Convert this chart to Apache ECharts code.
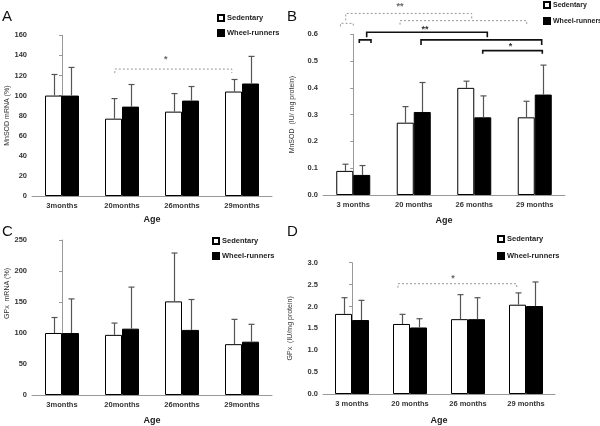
<!DOCTYPE html>
<html><head><meta charset="utf-8">
<script src="https://cdn.jsdelivr.net/npm/echarts@6/dist/echarts.min.js"></script>
<style>html,body{margin:0;padding:0;background:#fff}#c{width:600px;height:426px}</style>
</head><body><div id="c"></div>
<script>
// ---- data ----
const catsAC = ['3months', '20months', '26months', '29months'];
const catsBD = ['3 months', '20 months', '26 months', '29 months'];

const sedA = [100, 77, 84, 104];
const sedA_up = [121, 97, 102, 116];
const runA = [100, 89, 95, 112];
const runA_up = [128, 111, 109, 139];

const sedB = [0.09, 0.27, 0.40, 0.29];
const sedB_up = [0.115, 0.33, 0.425, 0.35];
const runB = [0.075, 0.31, 0.29, 0.375];
const runB_up = [0.11, 0.42, 0.37, 0.485];

const sedC = [100, 97, 151, 82];
const sedC_up = [125, 116, 229, 122];
const runC = [100, 107, 105, 86];
const runC_up = [155, 174, 154, 114];

const sedD = [1.83, 1.60, 1.71, 2.04];
const sedD_up = [2.20, 1.82, 2.27, 2.31];
const runD = [1.69, 1.52, 1.71, 2.01];
const runD_up = [2.14, 1.72, 2.20, 2.56];

// significance annotations (x in category units, y in data units)
const bracketsA = [
  {x1: 0.88, x2: 2.83, y: 126.4, d1: 4, d2: 4, dash: true, text: '*', tx: 1.73, ty: 135.4}
];
const bracketsB = [
  {x1: -0.21, x2: 0.0, y: 0.641, d1: 3, d2: 3, dash: true},
  {x1: -0.125, x2: 1.958, y: 0.678, d1: 7, d2: 5, dash: true, text: '**', tx: 0.773, ty: 0.702},
  {x1: 0.773, x2: 2.867, y: 0.651, d1: 4, d2: 4, dash: true},
  {x1: 0.1, x2: 0.293, y: 0.579, d1: 3, d2: 3, dash: false},
  {x1: 0.222, x2: 2.216, y: 0.6075, d1: 5, d2: 5, dash: false, text: '**', tx: 1.186, ty: 0.618},
  {x1: 1.12, x2: 3.115, y: 0.579, d1: 5, d2: 5, dash: false},
  {x1: 2.14, x2: 3.125, y: 0.539, d1: 3, d2: 3, dash: false, text: '*', tx: 2.60, ty: 0.554}
];
const bracketsC = [];
const bracketsD = [
  {x1: 0.793, x2: 2.84, y: 2.52, d1: 4, d2: 4, dash: true, text: '*', tx: 1.74, ty: 2.64}
];

// ---- chart ----
const FONT = '"Liberation Sans", Arial, sans-serif';
const BW = 17;

function errSeries(xi, yi, means, ups, side) {
  return {
    type: 'custom', xAxisIndex: xi, yAxisIndex: yi, silent: true, z: 5,
    data: means.map((m, i) => [i, m, ups[i]]),
    renderItem: function (params, api) {
      const b = api.coord([api.value(0), api.value(1)]);
      const t = api.coord([api.value(0), api.value(2)]);
      const x = Math.round(b[0] + side * BW / 2) + 0.5;
      return {
        type: 'group', children: [
          {type: 'line', shape: {x1: x, y1: b[1], x2: x, y2: t[1]}, style: {stroke: '#555', lineWidth: 1.2}},
          {type: 'line', shape: {x1: x - 3, y1: t[1], x2: x + 3, y2: t[1]}, style: {stroke: '#555', lineWidth: 1.2}}
        ]
      };
    }
  };
}

function bracketSeries(xi, yi, list) {
  return {
    type: 'custom', xAxisIndex: xi, yAxisIndex: yi, silent: true, z: 6, clip: false,
    data: list.map(() => [0, 0]),
    renderItem: function (params, api) {
      const b = list[params.dataIndex];
      const p1 = api.coord([b.x1, b.y]);
      const p2 = api.coord([b.x2, b.y]);
      const col = b.dash ? '#999' : '#111';
      const children = [{
        type: 'polyline',
        shape: {points: [[p1[0], p1[1] + b.d1], [p1[0], p1[1]], [p2[0], p2[1]], [p2[0], p2[1] + b.d2]]},
        style: {stroke: col, fill: null, lineWidth: b.dash ? 1 : 1.6, lineDash: b.dash ? [2, 2] : null}
      }];
      if (b.text) {
        const tp = api.coord([b.tx, b.ty]);
        children.push({type: 'text', x: tp[0], y: tp[1],
          style: {text: b.text, fill: b.dash ? '#666' : '#333', font: 'bold 9px ' + FONT, align: 'center', verticalAlign: 'middle'}});
      }
      return {type: 'group', children: children};
    }
  };
}

function barPair(xi, yi, sed, run) {
  return [
    {name: 'Sedentary', type: 'bar', xAxisIndex: xi, yAxisIndex: yi, data: sed, barWidth: BW, barGap: '0%',
      itemStyle: {color: '#fff', borderColor: '#000', borderWidth: 1}, silent: true},
    {name: 'Wheel-runners', type: 'bar', xAxisIndex: xi, yAxisIndex: yi, data: run, barWidth: BW, barGap: '0%',
      itemStyle: {color: '#000', borderColor: '#000', borderWidth: 1}, silent: true}
  ];
}

const tickLbl = {fontSize: 7.5, fontWeight: 'bold', color: '#333', fontFamily: FONT};
function xAx(gi, cats, gap) {
  return {type: 'category', gridIndex: gi, data: cats, name: 'Age', nameLocation: 'middle', nameGap: gap,
    nameTextStyle: {fontSize: 9, fontWeight: 'bold', color: '#222', fontFamily: FONT},
    axisLine: {lineStyle: {color: '#999'}}, axisTick: {length: 3, lineStyle: {color: '#999'}},
    axisLabel: Object.assign({margin: 6}, tickLbl)};
}
function xHidden(gi) {
  return {type: 'value', gridIndex: gi, min: -0.5, max: 3.5, show: false};
}
function yAx(gi, name, max, interval, gap, dec, pad) {
  return {type: 'value', gridIndex: gi, min: 0, max: max, interval: interval, name: name,
    nameLocation: 'middle', nameGap: gap,
    nameTextStyle: {fontSize: 7, color: '#333', fontFamily: FONT, padding: pad || 0},
    splitLine: {show: false},
    axisLine: {show: true, lineStyle: {color: '#999'}}, axisTick: {show: true, length: 3, lineStyle: {color: '#999'}},
    axisLabel: Object.assign({margin: 5, formatter: v => dec ? v.toFixed(dec) : String(v)}, tickLbl)};
}
function legendAt(left, top, gap, fs) {
  return {data: ['Sedentary', 'Wheel-runners'], orient: 'vertical', left: left, top: top, itemWidth: 6, itemHeight: 6,
    itemGap: gap, icon: 'rect', padding: 0, selectedMode: false,
    textStyle: {fontSize: fs || 7.5, fontWeight: 'bold', color: '#222', fontFamily: FONT, padding: [0, 0, 0, -2]}};
}
function letter(txt, x, y) {
  return {type: 'text', left: x, top: y, style: {text: txt, font: '15px "Liberation Sans", Arial', fill: '#111'}};
}

const chart = echarts.init(document.getElementById('c'), null, {renderer: 'canvas'});
chart.setOption({
  animation: false,
  backgroundColor: '#fff',
  grid: [
    {left: 32, top: 35.3, width: 240, height: 160.7},
    {left: 323, top: 34.3, width: 242, height: 160.7},
    {left: 32, top: 240, width: 240, height: 157.7},
    {left: 323, top: 262.7, width: 232, height: 135}
  ],
  xAxis: [xAx(0, catsAC, 19), xAx(1, catsBD, 21), xAx(2, catsAC, 21), xAx(3, catsBD, 22),
          xHidden(0), xHidden(1), xHidden(2), xHidden(3)],
  yAxis: [
    yAx(0, 'MnSOD mRNA (%)', 160, 20, 20, 0),
    yAx(1, 'MnSOD  (IU/ mg protein)', 0.6, 0.1, 27, 1),
    yAx(2, 'GPx  mRNA (%)', 250, 50, 20, 0, [0, 0, 0, 48]),
    yAx(3, 'GPx  (IU/mg protein)', 3.0, 0.5, 29, 1)
  ],
  legend: [legendAt(217, 14, 7), legendAt(543, 1, 8, 7), legendAt(212, 237, 7), legendAt(497, 235, 9)],
  graphic: [letter('A', 2, 9), letter('B', 287, 9), letter('C', 2, 224), letter('D', 287, 224)],
  series: [].concat(
    barPair(0, 0, sedA, runA), [errSeries(0, 0, sedA, sedA_up, -1), errSeries(0, 0, runA, runA_up, 1), bracketSeries(4, 0, bracketsA)],
    barPair(1, 1, sedB, runB), [errSeries(1, 1, sedB, sedB_up, -1), errSeries(1, 1, runB, runB_up, 1), bracketSeries(5, 1, bracketsB)],
    barPair(2, 2, sedC, runC), [errSeries(2, 2, sedC, sedC_up, -1), errSeries(2, 2, runC, runC_up, 1), bracketSeries(6, 2, bracketsC)],
    barPair(3, 3, sedD, runD), [errSeries(3, 3, sedD, sedD_up, -1), errSeries(3, 3, runD, runD_up, 1), bracketSeries(7, 3, bracketsD)]
  )
});
</script></body></html>
